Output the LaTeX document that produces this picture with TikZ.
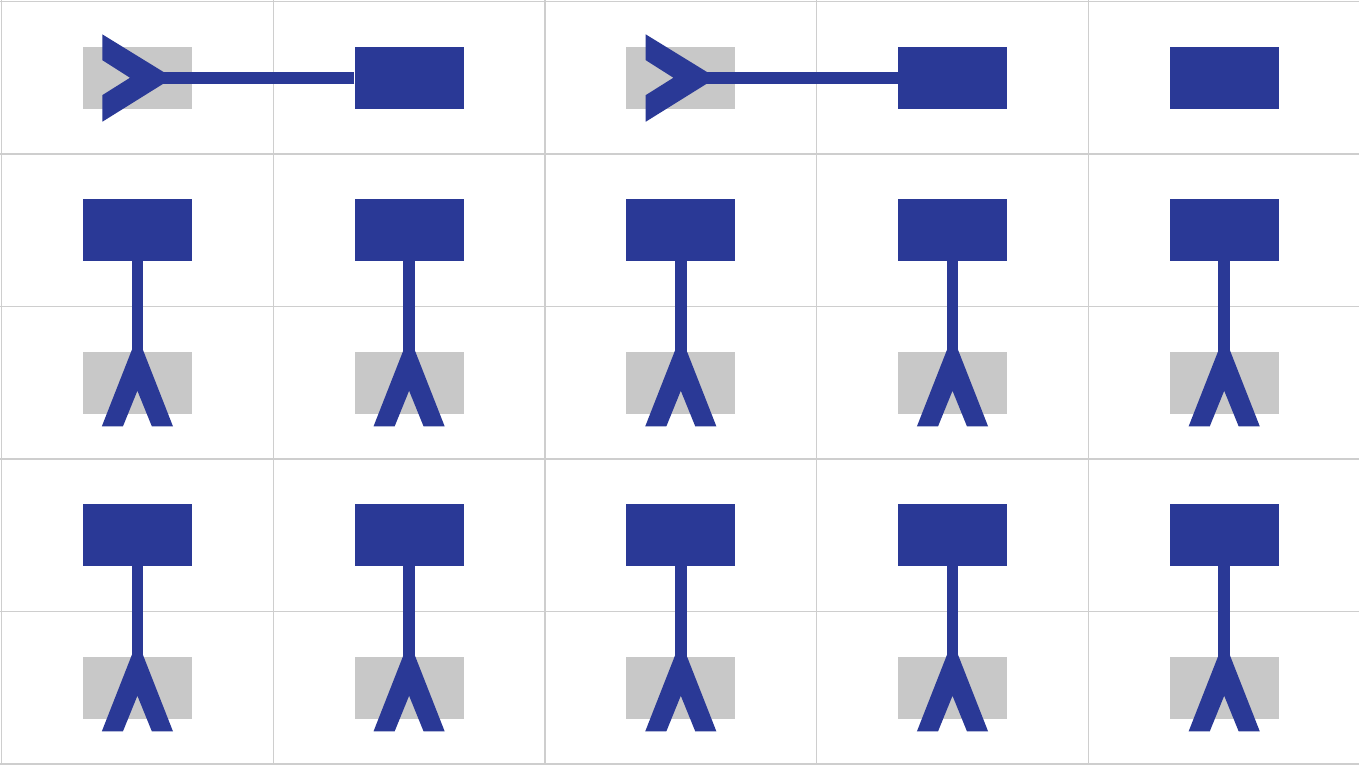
\documentclass[tikz,border=0pt]{standalone}
\usetikzlibrary{calc}
\definecolor{tipblue}{RGB}{42,57,150}
\definecolor{boxgray}{RGB}{200,200,200}
\definecolor{gridgray}{RGB}{206,206,206}
\begin{document}
\begin{tikzpicture}[x=1pt,y=-1pt,
  bluebox/.style={fill=tipblue,minimum width=109pt,minimum height=62pt,inner sep=0pt,draw=none},
  graybox/.style={fill=boxgray,minimum width=109pt,minimum height=62pt,inner sep=0pt,draw=none},
  conn/.style={draw=tipblue,line width=11.6pt},
  tipfill/.style={fill=tipblue},
  gridline/.style={draw=gridgray,line width=1.2pt}]
\useasboundingbox (0,0) rectangle (1359,765);
\fill[white] (0,0) rectangle (1359,765);
% grid
\foreach \gx in {1.5,273.3,545,816.7,1088.3}
  \draw[gridline] (\gx,0) -- (\gx,765);
\foreach \gy in {1.5,154,306.5,459,611.5,764}
  \draw[gridline] (0,\gy) -- (1359,\gy);
% row 1
\node[graybox] (g11) at (137.4,77.75) {};
\node[bluebox] (b12) at (409.1,77.75) {};
\node[graybox] (g13) at (680.8,77.75) {};
\node[bluebox] (b14) at (952.5,77.75) {};
\node[bluebox] (b15) at (1224.2,77.75) {};
\foreach \g/\b in {g11/b12,g13/b14}{
  \draw[conn] (\b.west) -- (\g.center);
  \fill[tipfill,shift={(\g.center)}] (35.5,0) -- (-35.1,-43.4) -- (-35.1,-17.6) -- (-7.4,0) -- (-35.1,17.4) -- (-35.1,44) -- cycle;
}
% rows 2-5
\foreach \c in {1,...,5}{
  \pgfmathsetmacro{\cx}{137.4+271.7*(\c-1)}
  \foreach \rb/\rg/\yb/\yg in {2/3/230.25/382.75,4/5/535.25/687.75}{
    \node[bluebox] (b\rb\c) at (\cx,\yb) {};
    \node[graybox] (g\rg\c) at (\cx,\yg) {};
    \draw[conn] (b\rb\c.south) -- (g\rg\c.center);
    \fill[tipfill,shift={(g\rg\c.center)}] (0,-47) -- (35.6,43.7) -- (14.5,43.7) -- (0,8) -- (-14.5,43.7) -- (-35.6,43.7) -- cycle;
  }
}
\end{tikzpicture}
\end{document}
